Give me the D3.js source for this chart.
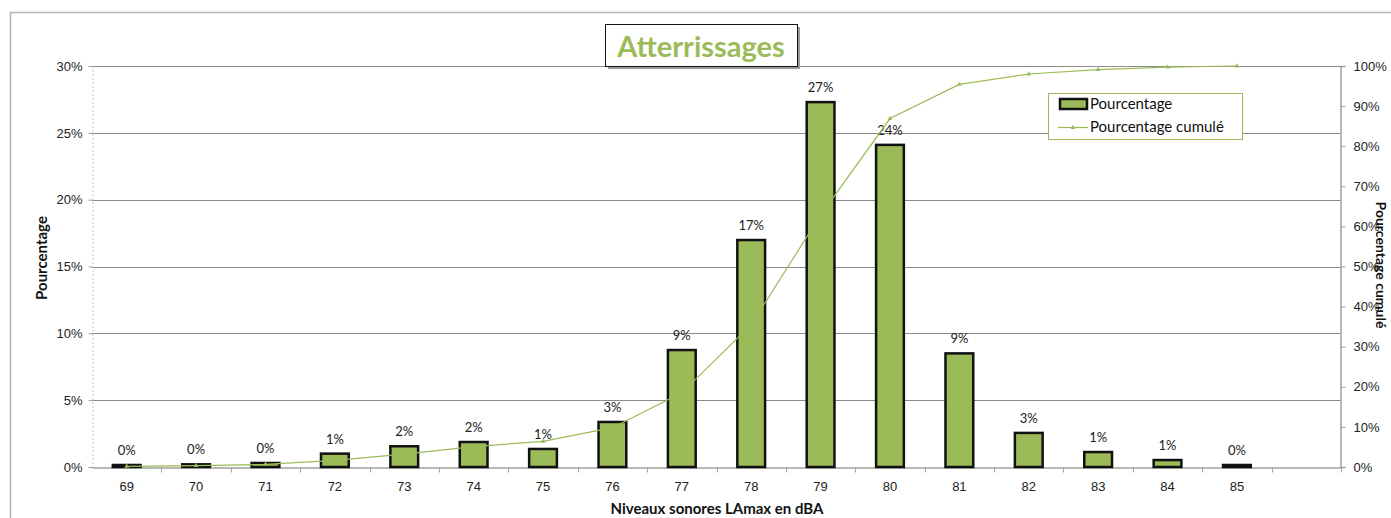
<!DOCTYPE html>
<html>
<head>
<meta charset="utf-8">
<script src="https://cdn.jsdelivr.net/npm/d3@7/dist/d3.min.js"></script>
<style>
  body { margin: 0; background: #fff; }
  svg { display: block; font-family: Lato, "Noto Sans", sans-serif; }
</style>
</head>
<body>
<div id="chart"></div>
<script>
// niveaux sonores (dBA) - la dernière catégorie est vide
const levels = ["69", "70", "71", "72", "73", "74", "75", "76", "77", "78", "79", "80", "81", "82", "83", "84", "85", ""];
// pourcentage par niveau (%)
const percents = [0.15, 0.2, 0.3, 1.0, 1.55, 1.87, 1.35, 3.37, 8.75, 16.98, 27.3, 24.1, 8.5, 2.55, 1.12, 0.52, 0.15];
// pourcentage cumulé (%)
const cumulative = [0.15, 0.35, 0.65, 1.65, 3.2, 5.1, 6.4, 9.8, 18.5, 35.5, 62.8, 86.9, 95.4, 98.0, 99.1, 99.7, 100];
const leftTicks = [0, 5, 10, 15, 20, 25, 30];
const rightTicks = [0, 10, 20, 30, 40, 50, 60, 70, 80, 90, 100];

const W = 1391, H = 518;
const green = "#9bbb59";
const plot = { left: 92, right: 1341, top: 66, bottom: 467 };

const svg = d3.select("#chart").append("svg").attr("width", W).attr("height", H);

// cadre du graphique
svg.append("path")
    .attr("d", `M10.5,${H} V12.5 H${W}`)
    .attr("fill", "none")
    .attr("stroke", "#b3b3b3")
    .attr("stroke-width", 1.5);

const x = d3.scaleBand().domain(levels).range([plot.left, plot.right]);
const yL = d3.scaleLinear().domain([0, 30]).range([plot.bottom, plot.top]);
const yR = d3.scaleLinear().domain([0, 100]).range([plot.bottom, plot.top]);

// grille
svg.append("g")
    .selectAll("line")
    .data(leftTicks.slice(1))
    .join("line")
    .attr("x1", plot.left).attr("x2", plot.right)
    .attr("y1", (d) => Math.round(yL(d)) + 0.5).attr("y2", (d) => Math.round(yL(d)) + 0.5)
    .attr("stroke", "#8c8c8c");

// axe gauche
const axL = svg.append("g")
    .attr("transform", `translate(${plot.left + 0.5},0)`)
    .call(d3.axisLeft(yL).tickValues(leftTicks).tickFormat((d) => d + "%").tickSize(4).tickPadding(6));
axL.select(".domain").attr("stroke", "#c8c8c8").attr("stroke-dasharray", "2,2");
axL.selectAll(".tick line").attr("stroke", "#a0a0a0");
axL.selectAll("text").attr("fill", "#222").style("font-size", "13px");

// axe droit
const axR = svg.append("g")
    .attr("transform", `translate(${plot.right - 0.5},0)`)
    .call(d3.axisRight(yR).tickValues(rightTicks).tickFormat((d) => d + "%").tickSize(5).tickPadding(8));
axR.select(".domain").attr("stroke", "#a0a0a0").attr("stroke-width", 1.5);
axR.selectAll(".tick line").attr("stroke", "#a0a0a0");
axR.selectAll("text").attr("fill", "#222").style("font-size", "13px");

// axe des x
const axX = svg.append("g")
    .attr("transform", `translate(0,${plot.bottom + 0.5})`)
    .call(d3.axisBottom(x).tickSize(0).tickPadding(14));
axX.select(".domain").attr("stroke", "#a0a0a0").attr("stroke-width", 1.5);
axX.selectAll("text").attr("fill", "#222").style("font-size", "13px");
axX.selectAll(".sep")
    .data(levels)
    .join("line")
    .attr("class", "sep")
    .attr("x1", (d) => Math.round(x(d) + x.bandwidth()) + 0.5)
    .attr("x2", (d) => Math.round(x(d) + x.bandwidth()) + 0.5)
    .attr("y1", 0).attr("y2", 5)
    .attr("stroke", "#a0a0a0");

// barres
const barW = x.bandwidth() * 0.4;
const data = percents.map((v, i) => ({ level: levels[i], v, c: cumulative[i] }));
svg.append("g")
    .selectAll("rect")
    .data(data)
    .join("rect")
    .attr("x", (d) => x(d.level) + (x.bandwidth() - barW) / 2)
    .attr("y", (d) => yL(d.v))
    .attr("width", barW)
    .attr("height", (d) => yL(0) - yL(d.v))
    .attr("fill", green)
    .attr("stroke", "#111")
    .attr("stroke-width", 2.5);

// étiquettes des barres
svg.append("g")
    .selectAll("text")
    .data(data)
    .join("text")
    .attr("x", (d) => x(d.level) + x.bandwidth() / 2)
    .attr("y", (d) => yL(d.v) - 10)
    .attr("text-anchor", "middle")
    .attr("fill", "#222")
    .style("font-size", "13px")
    .text((d) => Math.round(d.v) + "%");

// courbe cumulée
const line = d3.line()
    .x((d) => x(d.level) + x.bandwidth() / 2)
    .y((d) => yR(d.c));
svg.append("path")
    .datum(data)
    .attr("d", line)
    .attr("fill", "none")
    .attr("stroke", green)
    .attr("stroke-width", 1.2);
svg.append("g")
    .selectAll("path")
    .data(data)
    .join("path")
    .attr("transform", (d) => `translate(${x(d.level) + x.bandwidth() / 2},${yR(d.c)})`)
    .attr("d", d3.symbol(d3.symbolTriangle, 10))
    .attr("fill", green);

// titres des axes
svg.append("text")
    .attr("transform", "translate(47,258) rotate(-90)")
    .attr("text-anchor", "middle")
    .attr("fill", "#111")
    .style("font-size", "15px")
    .style("font-weight", "bold")
    .text("Pourcentage");
svg.append("text")
    .attr("transform", "translate(1376,265) rotate(90)")
    .attr("text-anchor", "middle")
    .attr("fill", "#111")
    .style("font-size", "14px")
    .style("font-weight", "bold")
    .text("Pourcentage cumulé");
svg.append("text")
    .attr("x", 717)
    .attr("y", 514)
    .attr("text-anchor", "middle")
    .attr("fill", "#111")
    .style("font-size", "15px")
    .style("font-weight", "bold")
    .text("Niveaux sonores LAmax en dBA");

// titre encadré
svg.append("rect")
    .attr("x", 608).attr("y", 27).attr("width", 192).attr("height", 42)
    .attr("fill", "#9a9a9a");
svg.append("rect")
    .attr("x", 605.5).attr("y", 24.5).attr("width", 192).attr("height", 42)
    .attr("fill", "#fff")
    .attr("stroke", "#111")
    .attr("stroke-width", 1);
svg.append("text")
    .attr("x", 701)
    .attr("y", 57)
    .attr("text-anchor", "middle")
    .attr("fill", green)
    .style("font-size", "29px")
    .style("font-weight", "bold")
    .text("Atterrissages");

// légende
const legend = svg.append("g").attr("transform", "translate(1048,93)");
legend.append("rect")
    .attr("x", 0.5).attr("y", 0.5).attr("width", 194).attr("height", 46)
    .attr("fill", "#fff")
    .attr("stroke", green)
    .attr("stroke-width", 1);
legend.append("rect")
    .attr("x", 12).attr("y", 6).attr("width", 27).attr("height", 10)
    .attr("fill", green)
    .attr("stroke", "#111")
    .attr("stroke-width", 2.5);
legend.append("text")
    .attr("x", 42).attr("y", 16)
    .attr("fill", "#111")
    .style("font-size", "15px")
    .text("Pourcentage");
legend.append("line")
    .attr("x1", 10).attr("x2", 40).attr("y1", 34.5).attr("y2", 34.5)
    .attr("stroke", green)
    .attr("stroke-width", 1.2);
legend.append("path")
    .attr("transform", "translate(25,34.5)")
    .attr("d", d3.symbol(d3.symbolTriangle, 10))
    .attr("fill", green);
legend.append("text")
    .attr("x", 42).attr("y", 39)
    .attr("fill", "#111")
    .style("font-size", "15px")
    .text("Pourcentage cumulé");
</script>
</body>
</html>
